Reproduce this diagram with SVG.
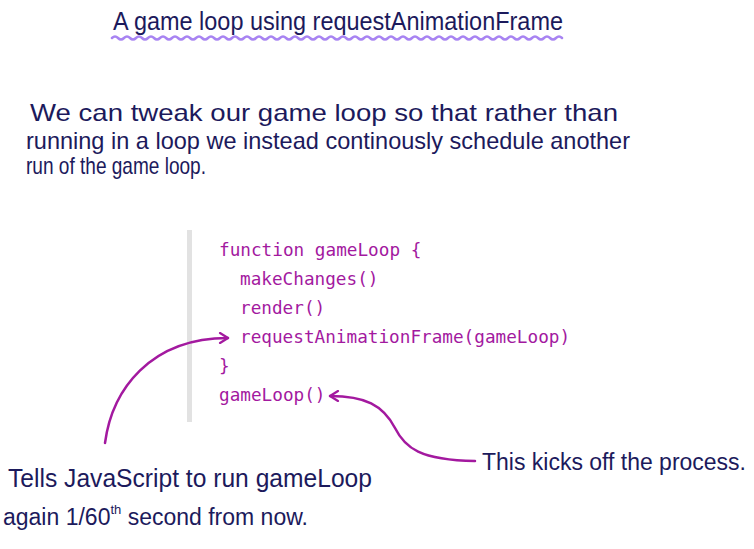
<svg xmlns="http://www.w3.org/2000/svg" width="754" height="549" viewBox="0 0 754 549">
<defs>
<style>
.hand{font-family:"Liberation Sans","DejaVu Sans",sans-serif;fill:#1c1a5c;}
.code{font-family:"DejaVu Sans Mono","Liberation Mono",monospace;font-size:17.7px;fill:#a3199f;}
.conn{fill:none;stroke:#a3199f;stroke-width:2.5;stroke-linecap:round;}
</style>
<marker id="ah" viewBox="0 0 12 12" refX="10" refY="6" markerWidth="12" markerHeight="12" markerUnits="userSpaceOnUse" orient="auto">
<path d="M2,1 L10,6 L2,11" fill="none" stroke="#a3199f" stroke-width="2.2" stroke-linecap="round" stroke-linejoin="round"/>
</marker>
</defs>
<rect width="754" height="549" fill="#ffffff"/>
<g id="title">
<text class="hand" x="113" y="30" font-size="25" textLength="450" lengthAdjust="spacingAndGlyphs">A game loop using requestAnimationFrame</text>
<path d="M112,38 q3,-3 6,0 t6,0 t6,0 t6,0 t6,0 t6,0 t6,0 t6,0 t6,0 t6,0 t6,0 t6,0 t6,0 t6,0 t6,0 t6,0 t6,0 t6,0 t6,0 t6,0 t6,0 t6,0 t6,0 t6,0 t6,0 t6,0 t6,0 t6,0 t6,0 t6,0 t6,0 t6,0 t6,0 t6,0 t6,0 t6,0 t6,0 t6,0 t6,0 t6,0 t6,0 t6,0 t6,0 t6,0 t6,0 t6,0 t6,0 t6,0 t6,0 t6,0 t6,0 t6,0 t6,0 t6,0 t6,0 t6,0 t6,0 t6,0 t6,0 t6,0 t6,0 t6,0 t6,0 t6,0 t6,0 t6,0 t6,0 t6,0 t6,0 t6,0 t6,0 t6,0 t6,0 t6,0 t6,0" fill="none" stroke="#a884f2" stroke-width="2.5" stroke-linecap="round"/>
</g>
<g id="intro">
<text class="hand" x="30" y="121" font-size="24" textLength="588" lengthAdjust="spacingAndGlyphs">We can tweak our game loop so that rather than</text>
<text class="hand" x="26" y="149" font-size="24" textLength="604" lengthAdjust="spacingAndGlyphs">running in a loop we instead continously schedule another</text>
<text class="hand" x="26" y="174" font-size="24" textLength="180" lengthAdjust="spacingAndGlyphs">run of the game loop.</text>
</g>
<g id="code">
<rect x="187" y="230" width="5" height="192" fill="#e2e2e2"/>
<text class="code" x="219" y="256">function gameLoop {</text>
<text class="code" x="240" y="285">makeChanges()</text>
<text class="code" x="240" y="314">render()</text>
<text class="code" x="240" y="343">requestAnimationFrame(gameLoop)</text>
<text class="code" x="219" y="372">}</text>
<text class="code" x="219" y="401">gameLoop()</text>
</g>
<g id="note-left">
<text class="hand" x="8" y="487" font-size="25" textLength="364" lengthAdjust="spacingAndGlyphs">Tells JavaScript to run gameLoop</text>
<text class="hand" x="3" y="525" font-size="23">again <tspan>1/60</tspan><tspan font-size="13" dy="-11">th</tspan><tspan dy="11"> second from now.</tspan></text>
</g>
<g id="note-right">
<text class="hand" x="482" y="470" font-size="23" textLength="264" lengthAdjust="spacingAndGlyphs">This kicks off the process.</text>
</g>
<g id="connectors">
<path class="conn" d="M105,443 C112,390 150,338 228,338" marker-end="url(#ah)"/>
<path class="conn" d="M475,461 C420,460 405,448 395,428 C383,405 365,396 330,396" marker-end="url(#ah)"/>
</g>
</svg>
